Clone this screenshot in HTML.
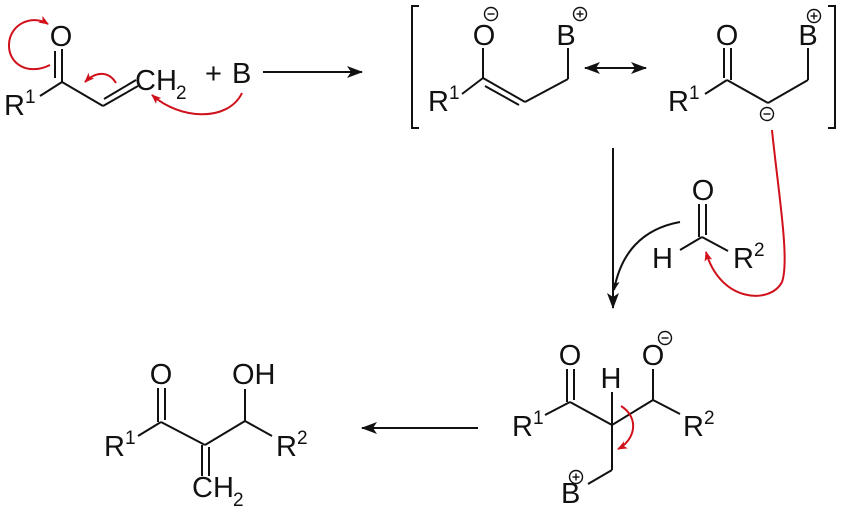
<!DOCTYPE html>
<html><head><meta charset="utf-8"><style>html,body{margin:0;padding:0;background:#fff}svg{display:block}</style></head>
<body>
<svg width="842" height="512" viewBox="0 0 842 512" xmlns="http://www.w3.org/2000/svg" font-family="Liberation Sans, sans-serif" font-size="29">
<defs>
<marker id="ab" markerWidth="10" markerHeight="8" refX="9" refY="4" orient="auto" markerUnits="userSpaceOnUse"><path d="M0,0 L10,4 L0,8 L2.5,4z" fill="#111"/></marker>
<marker id="ar" markerWidth="10" markerHeight="8" refX="9" refY="4" orient="auto" markerUnits="userSpaceOnUse"><path d="M0,0 L10,4 L0,8 L2.5,4z" fill="#d0101a"/></marker>
<marker id="big" markerWidth="16" markerHeight="12" refX="15" refY="6" orient="auto" markerUnits="userSpaceOnUse"><path d="M0,0 L16,6 L0,12 L4,6z" fill="#111"/></marker>
<marker id="bigs" markerWidth="16" markerHeight="12" refX="1" refY="6" orient="auto" markerUnits="userSpaceOnUse"><path d="M16,0 L0,6 L16,12 L12,6z" fill="#111"/></marker>
</defs>
<g stroke="#111" stroke-width="2" fill="none">
<line x1="62" y1="49" x2="62" y2="82"/><line x1="55" y1="51" x2="55" y2="78"/>
<line x1="40" y1="96" x2="62" y2="82"/><line x1="62" y1="82" x2="103" y2="106"/>
<line x1="103" y1="106" x2="138" y2="86"/><line x1="104" y1="99" x2="136" y2="80"/>
<line x1="263" y1="72" x2="362" y2="72" marker-end="url(#big)"/>
<polyline points="419,6 412,6 412,128 419,128"/><polyline points="828,6 835,6 835,128 828,128"/>
<line x1="483" y1="48" x2="483" y2="78"/><line x1="462" y1="94" x2="483" y2="78"/>
<line x1="483" y1="78" x2="525" y2="102"/><line x1="485" y1="86" x2="519" y2="105"/>
<line x1="525" y1="102" x2="568" y2="79"/><line x1="568" y1="79" x2="568" y2="48"/>
<line x1="585" y1="68" x2="646" y2="68" marker-end="url(#big)" marker-start="url(#bigs)"/>
<line x1="724" y1="48" x2="724" y2="78"/><line x1="731" y1="48" x2="731" y2="80"/>
<line x1="705" y1="94" x2="727" y2="80"/><line x1="727" y1="80" x2="768" y2="103"/>
<line x1="768" y1="103" x2="808" y2="80"/><line x1="808" y1="80" x2="808" y2="48"/>
<line x1="613" y1="148" x2="613" y2="308" marker-end="url(#big)"/>
<path d="M680,222 Q625,232 614,290" marker-end="url(#ab)"/>
<line x1="699" y1="204" x2="699" y2="237"/><line x1="706" y1="204" x2="706" y2="235"/>
<line x1="702" y1="237" x2="680" y2="250"/><line x1="702" y1="237" x2="728" y2="251"/>
<line x1="567" y1="369" x2="567" y2="402"/><line x1="574" y1="369" x2="574" y2="400"/>
<line x1="545" y1="415" x2="570" y2="402"/><line x1="570" y1="402" x2="612" y2="425"/>
<line x1="612" y1="392" x2="612" y2="425"/><line x1="612" y1="425" x2="653" y2="400"/>
<line x1="653" y1="369" x2="653" y2="400"/><line x1="653" y1="400" x2="680" y2="414"/>
<line x1="612" y1="425" x2="612" y2="470"/><line x1="612" y1="470" x2="588" y2="484"/>
<line x1="158" y1="388" x2="158" y2="422"/><line x1="165" y1="388" x2="165" y2="420"/>
<line x1="138" y1="436" x2="161" y2="422"/><line x1="161" y1="422" x2="205" y2="445"/>
<line x1="202" y1="445" x2="202" y2="476"/><line x1="209" y1="447" x2="209" y2="476"/>
<line x1="205" y1="445" x2="245" y2="421"/><line x1="245" y1="389" x2="245" y2="421"/>
<line x1="245" y1="421" x2="272" y2="436"/>
<line x1="478" y1="428" x2="362" y2="428" marker-end="url(#big)"/>
</g>
<g stroke="#d0101a" stroke-width="2" fill="none">
<path d="M50,65 C28,76 8,64 9,44 C10,24 32,14 48,24" marker-end="url(#ar)"/>
<path d="M116,83 C108,70 95,72 85,82" marker-end="url(#ar)"/>
<path d="M242,93 C228,122 180,120 152,95" marker-end="url(#ar)"/>
<path d="M772,130 C778,190 790,260 782,282 C770,305 720,302 706,252" marker-end="url(#ar)"/>
<path d="M621,406 C640,418 635,440 618,449" marker-end="url(#ar)"/>
</g>
<g fill="#111" stroke="none">
<text x="61" y="46" text-anchor="middle">O</text>
<text x="4" y="115">R</text><text x="25" y="103" font-size="19">1</text>
<text x="135" y="90">CH</text><text x="176" y="99" font-size="19">2</text>
<text x="205" y="83">+</text><text x="232" y="83">B</text>
<text x="484" y="45" text-anchor="middle">O</text>
<text x="428" y="111">R</text><text x="449" y="99" font-size="19">1</text>
<text x="566" y="45" text-anchor="middle">B</text>
<text x="727" y="45" text-anchor="middle">O</text>
<text x="668" y="111">R</text><text x="689" y="99" font-size="19">1</text>
<text x="808" y="45" text-anchor="middle">B</text>
<text x="703" y="200" text-anchor="middle">O</text>
<text x="652" y="268">H</text>
<text x="733" y="268">R</text><text x="754" y="256" font-size="19">2</text>
<text x="570" y="365" text-anchor="middle">O</text>
<text x="611" y="388" text-anchor="middle">H</text>
<text x="653" y="365" text-anchor="middle">O</text>
<text x="512" y="436">R</text><text x="533" y="424" font-size="19">1</text>
<text x="683" y="436">R</text><text x="704" y="424" font-size="19">2</text>
<text x="561" y="503">B</text>
<text x="161" y="384" text-anchor="middle">O</text>
<text x="232" y="384">OH</text>
<text x="104" y="456">R</text><text x="125" y="444" font-size="19">1</text>
<text x="276" y="456">R</text><text x="297" y="444" font-size="19">2</text>
<text x="192" y="497">CH</text><text x="233" y="506" font-size="19">2</text>
</g>
<g stroke="#111" stroke-width="1.4" fill="none">
<circle cx="491" cy="14" r="6.5"/><line x1="487.5" y1="14" x2="494.5" y2="14"/>
<circle cx="580" cy="14" r="6.5"/><line x1="576.5" y1="14" x2="583.5" y2="14"/><line x1="580" y1="10.5" x2="580" y2="17.5"/>
<circle cx="814" cy="16" r="6.5"/><line x1="810.5" y1="16" x2="817.5" y2="16"/><line x1="814" y1="12.5" x2="814" y2="19.5"/>
<circle cx="767" cy="114" r="6.5"/><line x1="763.5" y1="114" x2="770.5" y2="114"/>
<circle cx="665" cy="338" r="6.5"/><line x1="661.5" y1="338" x2="668.5" y2="338"/>
<circle cx="576" cy="477" r="6.5"/><line x1="572.5" y1="477" x2="579.5" y2="477"/><line x1="576" y1="473.5" x2="576" y2="480.5"/>
</g>
</svg>
</body></html>
